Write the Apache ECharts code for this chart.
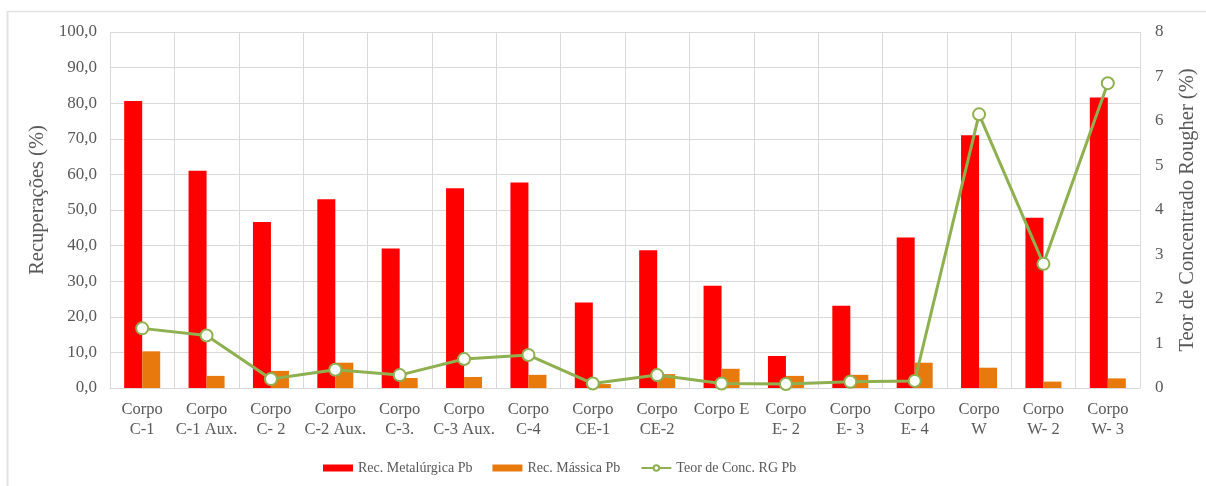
<!DOCTYPE html>
<html>
<head>
<meta charset="utf-8">
<script src="https://cdn.jsdelivr.net/npm/echarts@6/dist/echarts.min.js"></script>
<style>
  html, body { margin: 0; padding: 0; background: #fff; }
  #chart { width: 1206px; height: 486px; }
</style>
</head>
<body>
<div id="chart"></div>
<script>
// Ore bodies (x axis)
const categories = [
  'Corpo\nC-1', 'Corpo\nC-1 Aux.', 'Corpo\nC- 2', 'Corpo\nC-2 Aux.', 'Corpo\nC-3.',
  'Corpo\nC-3 Aux.', 'Corpo\nC-4', 'Corpo\nCE-1', 'Corpo\nCE-2', 'Corpo E',
  'Corpo\nE- 2', 'Corpo\nE- 3', 'Corpo\nE- 4', 'Corpo\nW', 'Corpo\nW- 2', 'Corpo\nW- 3'
];
// Metallurgical recovery of Pb (%)
const recMetalurgica = [80.6, 61.0, 46.6, 53.0, 39.2, 56.1, 57.7, 24.0, 38.7, 28.7, 9.0, 23.1, 42.3, 71.0, 47.8, 81.6];
// Mass recovery (%)
const recMassica = [10.3, 3.4, 4.8, 7.1, 2.8, 3.1, 3.7, 1.1, 3.9, 5.4, 3.4, 3.7, 7.1, 5.7, 1.8, 2.7];
// Rougher concentrate grade of Pb (%)
const teorConc = [1.34, 1.18, 0.20, 0.41, 0.29, 0.65, 0.74, 0.10, 0.29, 0.10, 0.09, 0.14, 0.16, 6.15, 2.79, 6.85];

const FONT = '"Liberation Serif", "Times New Roman", serif';
const TXT = '#595959';
const GRID = '#d9d9d9';

const chart = echarts.init(document.getElementById('chart'), null, { renderer: 'canvas' });
chart.setOption({
  animation: false,
  backgroundColor: '#fff',
  textStyle: { fontFamily: FONT },
  graphic: [
    { type: 'line', shape: { x1: 7.5, y1: 11, x2: 7.5, y2: 486 }, style: { stroke: '#e3e3e3', lineWidth: 2 } },
    { type: 'line', shape: { x1: 7, y1: 11.5, x2: 1206, y2: 11.5 }, style: { stroke: '#e3e3e3', lineWidth: 1.5 } }
  ],
  grid: { left: 110, right: 63, top: 32, bottom: 98 },
  legend: {
    top: 456,
    left: 318,
    itemGap: 20,
    itemWidth: 30,
    itemHeight: 7,
    textStyle: { fontFamily: FONT, fontSize: 14, color: TXT },
    data: [
      { name: 'Rec. Metalúrgica Pb', icon: 'rect' },
      { name: 'Rec. Mássica Pb', icon: 'rect' },
      { name: 'Teor de Conc. RG Pb' }
    ]
  },
  xAxis: {
    type: 'category',
    data: categories,
    boundaryGap: true,
    axisLine: { lineStyle: { color: GRID } },
    axisTick: { show: false },
    splitLine: { show: true, lineStyle: { color: GRID } },
    axisLabel: {
      interval: 0, color: TXT, fontFamily: FONT, fontSize: 16.5, lineHeight: 20, margin: 12
    }
  },
  yAxis: [
    {
      type: 'value', min: 0, max: 100, interval: 10,
      name: 'Recuperações (%)', nameLocation: 'middle', nameGap: 60, nameRotate: 90,
      nameTextStyle: { fontFamily: FONT, fontSize: 20.5, color: TXT, padding: [0, 0, 0, 20] },
      axisLine: { show: false }, axisTick: { show: false },
      splitLine: { lineStyle: { color: GRID } },
      axisLabel: {
        color: TXT, fontFamily: FONT, fontSize: 17, margin: 13,
        formatter: v => v.toFixed(1).replace('.', ',')
      }
    },
    {
      type: 'value', min: 0, max: 8, interval: 1,
      name: 'Teor de Concentrado Rougher (%)', nameLocation: 'middle', nameGap: 37, nameRotate: 90,
      nameTextStyle: { fontFamily: FONT, fontSize: 20.5, color: TXT },
      axisLine: { show: false }, axisTick: { show: false },
      splitLine: { show: false },
      axisLabel: { color: TXT, fontFamily: FONT, fontSize: 17, margin: 15 }
    }
  ],
  series: [
    {
      name: 'Rec. Metalúrgica Pb', type: 'bar', data: recMetalurgica,
      itemStyle: { color: '#ff0000' }, barWidth: 18, barGap: '0%'
    },
    {
      name: 'Rec. Mássica Pb', type: 'bar', data: recMassica,
      itemStyle: { color: '#e8790c' }, barWidth: 18
    },
    {
      name: 'Teor de Conc. RG Pb', type: 'line', yAxisIndex: 1, data: teorConc,
      symbol: 'circle', symbolSize: 12,
      lineStyle: { color: '#8fb050', width: 3 },
      itemStyle: { color: '#ffffff', borderColor: '#8fb050', borderWidth: 2 }
    }
  ]
});
</script>
</body>
</html>
